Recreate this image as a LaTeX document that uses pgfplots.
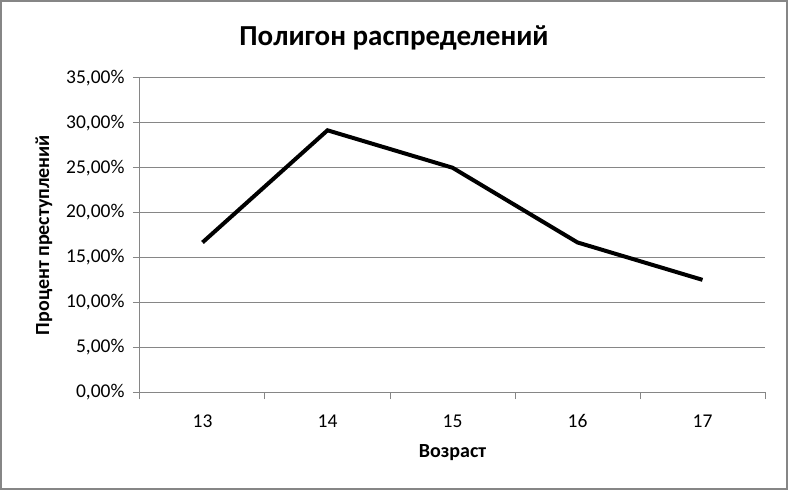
\documentclass[border=0pt]{standalone}
\usepackage{pgfplots}
\pgfplotsset{compat=1.18}
\usepackage{fontspec}
\setmainfont{Carlito}
\definecolor{gridgray}{HTML}{868686}
\begin{document}
\begin{tikzpicture}[x=1pt,y=1pt]
\begin{axis}[
  at={(0,0)}, anchor=south west,
  scale only axis,
  width=625pt, height=314pt,
  xmin=-0.5, xmax=4.5,
  ymin=0, ymax=35,
  xtick={0,1,2,3,4},
  xticklabels={13,14,15,16,17},
  minor xtick={-0.5,0.5,1.5,2.5,3.5,4.5},
  major x tick style={draw=none},
  ytick={0,5,...,35},
  yticklabel={\pgfmathprintnumber[fixed,fixed zerofill,precision=2,use comma]{\tick}\%},
  /pgf/number format/assume math mode=true,
  tick align=outside,
  major tick length=7pt,
  minor tick length=7pt,
  tick style={gridgray, line width=1pt},
  axis x line*=bottom,
  axis y line*=left,
  axis line style={gridgray, line width=1pt, -},
  ymajorgrids,
  grid style={gridgray, line width=1pt},
  ticklabel style={font=\fontsize{19.5}{22}\selectfont, text=black},
  yticklabel style={xshift=-5pt},
  xticklabel style={yshift=-12pt},
  xlabel={\textbf{Возраст}},
  ylabel={\textbf{Процент преступлений}},
  label style={font=\fontsize{20}{24}\selectfont},
  xlabel style={yshift=-10pt},
  ylabel style={yshift=7pt},
  clip=false,
]
\addplot[black, line width=4pt] coordinates {
  (0,16.67) (1,29.17) (2,25.00) (3,16.67) (4,12.50)
};
\end{axis}
\draw[gridgray, line width=2pt] (-139,-97) rectangle (647,391);
\node[font=\fontsize{29}{34}\selectfont\bfseries] at (254,354) {Полигон распределений};
\end{tikzpicture}
\end{document}
